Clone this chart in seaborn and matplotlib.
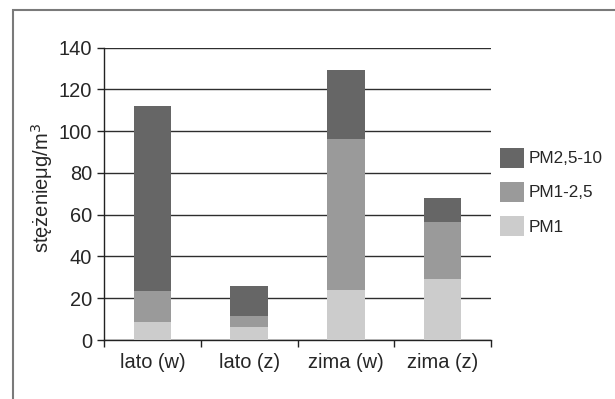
#!/usr/bin/env python3

import pandas as pd
import seaborn as sns
import matplotlib
import matplotlib.pyplot as plt
from matplotlib.patches import Patch, Rectangle

# values
categories = ["lato (w)", "lato (z)", "zima (w)", "zima (z)"]
pm1 = [8.6, 6.2, 24.0, 29.2]
pm1_25 = [14.9, 5.3, 72.3, 27.3]
pm25_10 = [88.6, 14.4, 33.1, 11.5]
series_names = ["PM1", "PM1-2,5", "PM2,5-10"]
colors = {"PM1": "#cccccc", "PM1-2,5": "#9a9a9a", "PM2,5-10": "#666666"}
y_ticks = [0, 20, 40, 60, 80, 100, 120, 140]


def configure_seaborn():
  sns.set_style("white")
  matplotlib.rcParams['font.family'] = ['Liberation Sans', 'DejaVu Sans']


def build_frame():
  df = pd.DataFrame({"kat": categories, "PM1": pm1,
                     "PM1-2,5": pm1_25, "PM2,5-10": pm25_10})
  # cumulative tops so the layers can be overlaid as a stack
  df["top_PM1"] = df["PM1"]
  df["top_PM1-2,5"] = df["PM1"] + df["PM1-2,5"]
  df["top_PM2,5-10"] = df["top_PM1-2,5"] + df["PM2,5-10"]
  return df


def main():
  configure_seaborn()
  df = build_frame()

  fig = plt.figure(figsize=(6.15, 3.99), dpi=100)
  ax = fig.add_axes([104/615, 1-340/399, 387/615, (340-47.7)/399])

  for name in reversed(series_names):
    sns.barplot(data=df, x="kat", y="top_" + name, color=colors[name],
                width=0.39, saturation=1, ax=ax, zorder=3,
                edgecolor="none", linewidth=0)

  ax.set_ylim(0, 140)
  ax.set_xlim(-0.5, 3.5)
  ax.set_yticks(y_ticks)
  ax.yaxis.grid(True, color="#2e2e2e", lw=1.0, zorder=1)
  ax.set_axisbelow(True)
  for b in ["top", "right"]:
    ax.spines[b].set_visible(False)
  for b in ["left", "bottom"]:
    ax.spines[b].set_color("#222222")
    ax.spines[b].set_linewidth(1.0)

  ax.set_xlabel("")
  ax.set_ylabel("stężenieμg/m$^3$", fontsize=14.5)
  ax.yaxis.set_label_coords(-0.127, 0.52)
  ax.tick_params(axis="y", direction="out", length=5, width=1,
                 color="#222222", labelsize=14.4, pad=3.5, left=True)
  # ticks sit on the category borders, labels in between
  ax.set_xticks([-0.5, 0.5, 1.5, 2.5, 3.5], minor=True)
  ax.tick_params(axis="x", which="minor", direction="out", length=5,
                 width=1, color="#222222", bottom=True)
  ax.tick_params(axis="x", which="major", length=0, labelsize=14.4, pad=9)

  handles = [Patch(facecolor=colors[n], edgecolor="none")
             for n in reversed(series_names)]
  fig.legend(handles, list(reversed(series_names)), loc="upper left",
             bbox_to_anchor=(500/615, 1-148/399), frameon=False,
             fontsize=12.3, handlelength=1.38, handleheight=1.38,
             handletextpad=0.3, labelspacing=0.85, borderpad=0,
             borderaxespad=0)

  fig.add_artist(Rectangle((13/615, -0.1), 2, 1.1-10/399, fill=False,
                           transform=fig.transFigure, ec="#7a7a7a", lw=1.5))

  fig.savefig("out.png", dpi=100)
  plt.close(fig)


if __name__ == '__main__':
  main()
